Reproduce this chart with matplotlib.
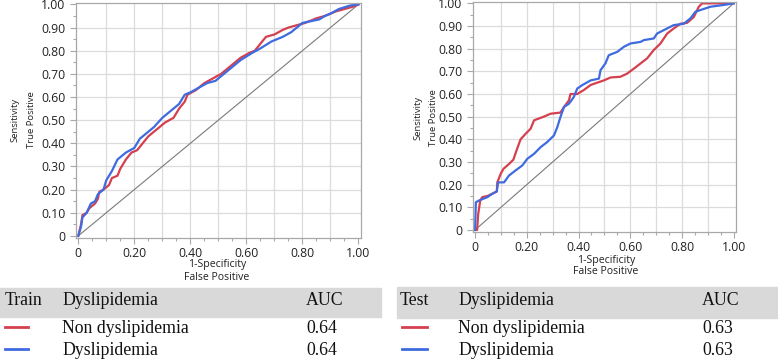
import matplotlib
matplotlib.use("Agg")
import matplotlib.pyplot as plt
from matplotlib.patches import Rectangle
import numpy as np

# ROC points (1-specificity, sensitivity)
train_non_fpr = [0, 0.01, 0.015, 0.03, 0.04, 0.06, 0.07, 0.075, 0.09, 0.11, 0.12, 0.14, 0.15, 0.17, 0.19,
                 0.21, 0.23, 0.25, 0.28, 0.31, 0.34, 0.36, 0.38, 0.39, 0.42, 0.45, 0.48, 0.51, 0.55, 0.58,
                 0.61, 0.63, 0.65, 0.67, 0.70, 0.73, 0.75, 0.78, 0.81, 0.85, 0.88, 0.92, 0.95, 0.98, 1.0]
train_non_tpr = [0, 0.05, 0.09, 0.10, 0.12, 0.14, 0.16, 0.19, 0.20, 0.22, 0.25, 0.26, 0.29, 0.33, 0.36,
                 0.37, 0.40, 0.43, 0.46, 0.49, 0.51, 0.55, 0.58, 0.61, 0.63, 0.66, 0.68, 0.70, 0.74, 0.77,
                 0.79, 0.80, 0.83, 0.86, 0.87, 0.89, 0.90, 0.91, 0.92, 0.94, 0.95, 0.97, 0.98, 0.99, 1.0]
train_dys_fpr = [0, 0.01, 0.015, 0.03, 0.045, 0.06, 0.07, 0.09, 0.10, 0.12, 0.14, 0.15, 0.17, 0.20, 0.22,
                 0.24, 0.27, 0.30, 0.33, 0.36, 0.38, 0.40, 0.43, 0.46, 0.49, 0.52, 0.55, 0.58, 0.62, 0.65,
                 0.69, 0.73, 0.76, 0.78, 0.80, 0.84, 0.86, 0.88, 0.90, 0.93, 0.97, 1.0]
train_dys_tpr = [0, 0.04, 0.08, 0.10, 0.14, 0.15, 0.18, 0.20, 0.24, 0.28, 0.33, 0.34, 0.36, 0.38, 0.42,
                 0.44, 0.47, 0.51, 0.54, 0.57, 0.61, 0.62, 0.64, 0.66, 0.67, 0.70, 0.73, 0.76, 0.79, 0.81,
                 0.84, 0.86, 0.88, 0.90, 0.92, 0.93, 0.935, 0.95, 0.96, 0.98, 0.995, 1.0]

test_non_fpr = [0, 0.008, 0.012, 0.02, 0.028, 0.048, 0.067, 0.084, 0.086, 0.10, 0.11, 0.13, 0.148, 0.16,
                0.176, 0.196, 0.215, 0.228, 0.266, 0.292, 0.33, 0.344, 0.363, 0.369, 0.395, 0.42, 0.447,
                0.472, 0.498, 0.524, 0.562, 0.588, 0.614, 0.64, 0.665, 0.691, 0.717, 0.743, 0.768, 0.794,
                0.82, 0.846, 0.865, 0.878, 1.0]
test_non_tpr = [0, 0.0, 0.07, 0.13, 0.145, 0.15, 0.16, 0.17, 0.21, 0.25, 0.27, 0.29, 0.31, 0.35,
                0.40, 0.425, 0.447, 0.484, 0.50, 0.513, 0.518, 0.543, 0.572, 0.60, 0.60, 0.617, 0.64,
                0.65, 0.66, 0.673, 0.676, 0.69, 0.712, 0.735, 0.757, 0.794, 0.823, 0.867, 0.889, 0.91,
                0.914, 0.94, 0.985, 1.0, 1.0]
test_dys_fpr = [0, 0.003, 0.015, 0.048, 0.067, 0.084, 0.089, 0.112, 0.131, 0.157, 0.183, 0.202, 0.228,
                0.254, 0.279, 0.305, 0.318, 0.33, 0.344, 0.363, 0.382, 0.395, 0.414, 0.447, 0.479, 0.485,
                0.504, 0.517, 0.55, 0.575, 0.601, 0.64, 0.653, 0.691, 0.704, 0.73, 0.768, 0.807, 0.833,
                0.852, 0.878, 0.91, 0.961, 1.0]
test_dys_tpr = [0, 0.122, 0.13, 0.145, 0.16, 0.17, 0.21, 0.21, 0.24, 0.263, 0.285, 0.314, 0.336,
                0.366, 0.388, 0.417, 0.454, 0.498, 0.543, 0.557, 0.587, 0.624, 0.639, 0.66, 0.668, 0.705,
                0.735, 0.771, 0.786, 0.808, 0.823, 0.83, 0.838, 0.845, 0.867, 0.882, 0.904, 0.91, 0.934,
                0.963, 0.973, 0.985, 0.993, 1.0]

groups = ["Non dyslipidemia", "Dyslipidemia"]
train_auc = ["0.64", "0.64"]
test_auc = ["0.63", "0.63"]

RED = "#d5404f"
BLUE = "#3f6be0"
W, H = 778, 360


def fx(px):
    return px / W


def fy(py):
    return 1 - py / H


fig = plt.figure(figsize=(7.78, 3.6), dpi=100)


def roc_axes(rect, curves):
    ax = fig.add_axes(rect)
    ax.set_xlim(-0.008, 1.009)
    ax.set_ylim(-0.009, 1.006)
    for v in np.arange(0.1, 1.0, 0.1):
        ax.axvline(v, color="#dcdcdc", lw=0.9, zorder=0)
        ax.axhline(v, color="#dcdcdc", lw=0.9, zorder=0)
    ax.plot([0, 1], [0, 1], color="#7a7a7a", lw=0.8, zorder=1)
    for xs, ys, c in curves:
        ax.plot(xs, ys, color=c, lw=1.6, zorder=2)
    ax.set_xticks(np.arange(0, 1.01, 0.2))
    ax.set_xticks(np.arange(0, 1.01, 0.05), minor=True)
    ax.set_yticks(np.arange(0, 1.01, 0.1))
    ax.set_yticks(np.arange(0, 1.01, 0.05), minor=True)
    ax.set_xticklabels(["0" if t == 0 else "%.2f" % t for t in np.arange(0, 1.01, 0.2)])
    ax.set_yticklabels(["0" if t == 0 else "%.2f" % t for t in np.arange(0, 1.01, 0.1)])
    for s in ax.spines.values():
        s.set_color("#a8a8a8")
        s.set_linewidth(0.9)
    ax.tick_params(which="major", length=4, width=0.8, color="#a8a8a8", labelsize=8.8,
                   labelcolor="#222222", pad=3.5)
    ax.tick_params(axis="x", which="major", pad=2.5)
    ax.tick_params(which="minor", length=2.5, width=0.8, color="#a8a8a8")
    for lab in ax.get_xticklabels() + ax.get_yticklabels():
        lab.set_family("Open Sans")
    return ax


roc_axes([fx(76), fy(238), fx(285), 235 / H],
         [(train_non_fpr, train_non_tpr, RED), (train_dys_fpr, train_dys_tpr, BLUE)])
roc_axes([fx(473), fy(232), fx(263), 230 / H],
         [(test_non_fpr, test_non_tpr, RED), (test_dys_fpr, test_dys_tpr, BLUE)])

xlab_kw = dict(fontsize=7.6, family="Open Sans", color="#222222", ha="center", va="center")
ylab_kw = dict(fontsize=6.8, family="Open Sans", color="#222222", ha="center", va="center")
fig.text(fx(217), fy(265), "1-Specificity", **xlab_kw)
fig.text(fx(217), fy(277), "False Positive", **xlab_kw)
fig.text(fx(606), fy(260), "1-Specificity", **xlab_kw)
fig.text(fx(606), fy(272), "False Positive", **xlab_kw)
fig.text(fx(15), fy(120), "Sensitivity", rotation=90, **ylab_kw)
fig.text(fx(32), fy(120), "True Positive", rotation=90, **ylab_kw)
fig.text(fx(418), fy(118), "Sensitivity", rotation=90, **ylab_kw)
fig.text(fx(433), fy(118), "True Positive", rotation=90, **ylab_kw)


def table(x0, x1, top, bottom, x_name, x_grp, x_auc, line_x, title, aucs):
    fig.patches.append(Rectangle((fx(x0), fy(bottom)), fx(x1 - x0), (bottom - top) / H,
                                 transform=fig.transFigure, color="#d9d9d9", zorder=0))
    kw = dict(fontsize=12.8, family="Liberation Serif", color="#111111", va="baseline")
    fig.text(fx(x_name), fy(305), title, **kw)
    fig.text(fx(x_grp), fy(305), "Dyslipidemia", **kw)
    fig.text(fx(x_auc), fy(305), "AUC", **kw)
    for g, a, c, base, ly in zip(groups, aucs, [RED, BLUE], [333, 355], [327, 349]):
        fig.text(fx(x_grp), fy(base), g, **kw)
        fig.text(fx(x_auc), fy(base), a, **kw)
        fig.add_artist(plt.Line2D([fx(line_x[0]), fx(line_x[1])], [fy(ly), fy(ly)],
                                  transform=fig.transFigure, color=c, lw=2))


table(0, 381, 288, 317, 5, 62, 306, (5, 28), "Train", train_auc)
table(397, 778, 287, 318, 400, 458, 702, (402, 427), "Test", test_auc)

fig.savefig("out.png", dpi=100)
